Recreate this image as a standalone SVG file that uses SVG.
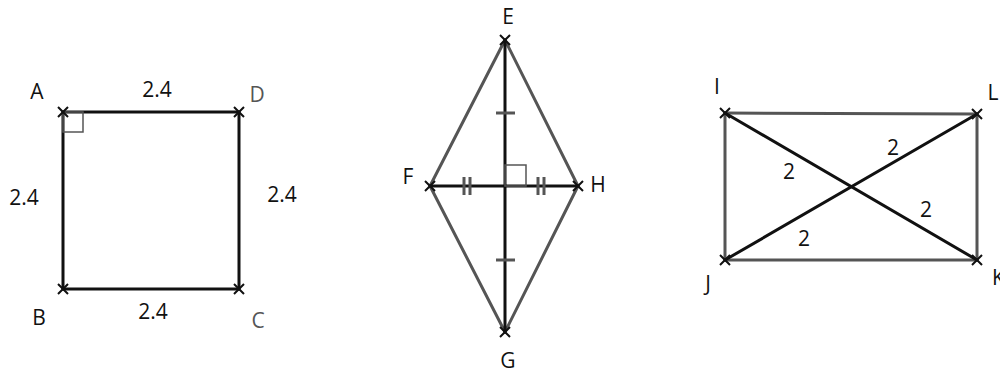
<svg xmlns="http://www.w3.org/2000/svg" width="1000" height="372" viewBox="0 0 1000 372">
<style>
.blk{stroke:#111;stroke-width:3;fill:none;stroke-linecap:round}
.gry{stroke:#555;stroke-width:3;fill:none;stroke-linecap:round}
.ra{stroke:#555;stroke-width:1.5;fill:none}
.tk{stroke:#555;stroke-width:3;fill:none}
.x{stroke:#111;stroke-width:2;fill:none}
text{font-family:"Open Sans","DejaVu Sans",sans-serif;font-size:21px;fill:#111;text-anchor:middle}
.g{fill:#555}
</style>
<defs>
<path id="cross" d="M-5,-5 L5,5 M-5,5 L5,-5" class="x"/>
</defs>
<g id="connectors">
<line class="blk" x1="63" y1="112" x2="239" y2="112"/>
<line class="blk" x1="63" y1="112" x2="63" y2="289"/>
<line class="blk" x1="63" y1="289" x2="239" y2="289"/>
<line class="blk" x1="239" y1="112" x2="239" y2="289"/>
<rect class="ra" x="63" y="112" width="20" height="20"/>
<line class="gry" x1="505" y1="40" x2="430" y2="186"/>
<line class="gry" x1="505" y1="40" x2="578" y2="186"/>
<line class="gry" x1="430" y1="186" x2="505" y2="332"/>
<line class="gry" x1="578" y1="186" x2="505" y2="332"/>
<line class="blk" x1="505" y1="40" x2="505" y2="332"/>
<line class="blk" x1="430" y1="186" x2="578" y2="186"/>
<rect class="ra" x="505" y="165" width="21" height="21"/>
<line class="tk" x1="496" y1="113" x2="515" y2="113"/>
<line class="tk" x1="496" y1="260" x2="515" y2="260"/>
<line class="tk" x1="464" y1="177" x2="464" y2="195"/>
<line class="tk" x1="470" y1="177" x2="470" y2="195"/>
<line class="tk" x1="538" y1="177" x2="538" y2="195"/>
<line class="tk" x1="544" y1="177" x2="544" y2="195"/>
<line class="gry" x1="725" y1="113" x2="977" y2="114"/>
<line class="gry" x1="725" y1="113" x2="725" y2="260"/>
<line class="gry" x1="725" y1="260" x2="977" y2="260"/>
<line class="gry" x1="977" y1="114" x2="977" y2="260"/>
<line class="blk" x1="725" y1="113" x2="977" y2="260"/>
<line class="blk" x1="725" y1="260" x2="977" y2="114"/>
</g>
<g id="node-A"><use href="#cross" x="63" y="112"/><text x="37" y="99">A</text></g>
<g id="node-D"><use href="#cross" x="239" y="112"/><text class="g" x="257" y="102">D</text></g>
<g id="node-B"><use href="#cross" x="63" y="289"/><text x="39" y="325">B</text></g>
<g id="node-C"><use href="#cross" x="239" y="289"/><text class="g" x="258" y="328">C</text></g>
<g id="labels-square">
<text x="157" y="97">2.4</text>
<text x="24" y="205">2.4</text>
<text x="282" y="202">2.4</text>
<text x="153" y="319">2.4</text>
</g>
<g id="node-E"><use href="#cross" x="505" y="40"/><text x="508" y="24">E</text></g>
<g id="node-F"><use href="#cross" x="430" y="186"/><text x="408" y="184">F</text></g>
<g id="node-H"><use href="#cross" x="578" y="186"/><text x="598" y="192">H</text></g>
<g id="node-G"><use href="#cross" x="505" y="332"/><text x="508" y="368">G</text></g>
<g id="node-I"><use href="#cross" x="725" y="113"/><text x="717" y="94">I</text></g>
<g id="node-L"><use href="#cross" x="977" y="114"/><text x="993" y="100">L</text></g>
<g id="node-J"><use href="#cross" x="725" y="260"/><text x="708" y="291">J</text></g>
<g id="node-K"><use href="#cross" x="977" y="260"/><text x="992" y="285" style="text-anchor:start">K</text></g>
<g id="labels-rect">
<text x="789" y="179">2</text>
<text x="893" y="155">2</text>
<text x="926" y="217">2</text>
<text x="804" y="246">2</text>
</g>
</svg>
